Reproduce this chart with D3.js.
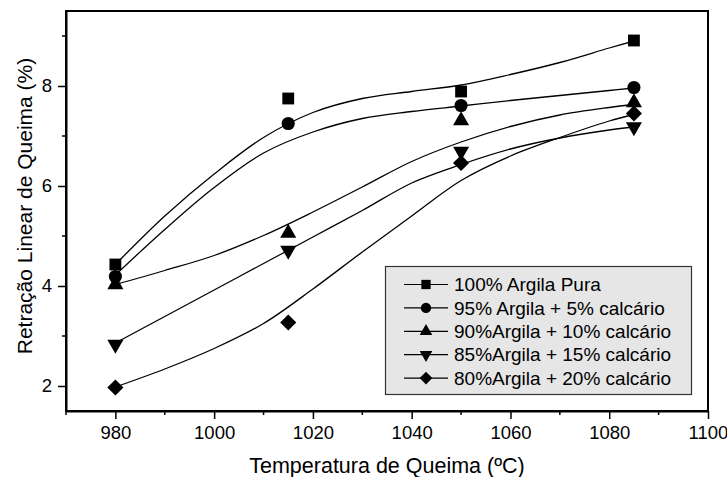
<!DOCTYPE html>
<html>
<head>
<meta charset="utf-8">
<script src="https://cdn.jsdelivr.net/npm/d3@7"></script>
<style>
  html, body { margin: 0; padding: 0; background: #fff; }
  svg { display: block; font-family: "Liberation Sans", Arial, sans-serif; }
</style>
</head>
<body>
<svg id="chart" width="727" height="477"></svg>
<script>
// Measured shrinkage at each firing temperature
const temperatures = [980, 1015, 1050, 1085];
const seriesNames = [
  "100% Argila Pura",
  "95% Argila + 5% calcário",
  "90%Argila + 10% calcário",
  "85%Argila + 15% calcário",
  "80%Argila + 20% calcário"
];
const argila100 = [4.43, 7.75, 7.89, 8.91];
const argila95 = [4.19, 7.25, 7.61, 7.97];
const argila90 = [4.03, 5.06, 7.31, 7.67];
const argila85 = [2.83, 4.71, 6.69, 7.18];
const argila80 = [1.97, 3.27, 6.46, 7.45];

// Fitted trend curves, sampled along the temperature range
const fitTemps = [980, 990, 1000, 1010, 1020, 1030, 1040, 1050, 1060, 1070, 1080, 1085];
const fit100 = [4.43, 5.40, 6.24, 6.97, 7.47, 7.75, 7.89, 8.02, 8.23, 8.47, 8.76, 8.90];
const fit95 = [4.22, 5.13, 5.97, 6.66, 7.08, 7.35, 7.49, 7.60, 7.71, 7.81, 7.91, 7.96];
const fit90 = [4.03, 4.31, 4.61, 5.01, 5.48, 5.98, 6.49, 6.88, 7.19, 7.42, 7.57, 7.63];
const fit85 = [2.86, 3.39, 3.92, 4.45, 4.98, 5.51, 6.06, 6.43, 6.74, 6.96, 7.12, 7.18];
const fit80 = [1.98, 2.34, 2.75, 3.25, 3.94, 4.68, 5.40, 6.11, 6.60, 6.97, 7.30, 7.43];

const xMajorTicks = [980, 1000, 1020, 1040, 1060, 1080, 1100];
const xMinorTicks = [970, 990, 1010, 1030, 1050, 1070, 1090];
const yMajorTicks = [2, 4, 6, 8];
const yMinorTicks = [3, 5, 7, 9];

const xTitle = "Temperatura de Queima (ºC)";
const yTitle = "Retração Linear de Queima (%)";

const seriesValues = [argila100, argila95, argila90, argila85, argila80];
const fitValues = [fit100, fit95, fit90, fit85, fit80];
const markerKinds = ["square", "circle", "triangleUp", "triangleDown", "diamond"];

const svg = d3.select("#chart");
const plotLeft = 66, plotRight = 708, plotTop = 11, plotBottom = 411;

const x = d3.scaleLinear().domain([970, 1100]).range([plotLeft, plotRight]);
const y = d3.scaleLinear().domain([1.5, 9.5]).range([plotBottom, plotTop]);

function markerPath(kind, scale) {
  const s = scale || 1;
  switch (kind) {
    case "square": return d3.symbol(d3.symbolSquare, 140 * s)();
    case "circle": return d3.symbol(d3.symbolCircle, 135 * s)();
    case "triangleUp": return d3.symbol(d3.symbolTriangle, 112 * s)();
    case "triangleDown": return d3.symbol(d3.symbolTriangle, 112 * s)();
    case "diamond": return d3.symbol(d3.symbolSquare, 130 * s)();
  }
}
function markerRotate(kind) {
  if (kind === "triangleDown") return 180;
  if (kind === "diamond") return 45;
  return 0;
}

// Fitted curves
const line = d3.line()
  .x((d, i) => x(fitTemps[i]))
  .y(d => y(d))
  .curve(d3.curveCatmullRom.alpha(0.5));

svg.append("g").selectAll("path")
  .data(fitValues)
  .join("path")
  .attr("d", d => line(d))
  .attr("fill", "none")
  .attr("stroke", "#000")
  .attr("stroke-width", 1.3);

// Data markers
seriesValues.forEach((vals, si) => {
  svg.append("g").selectAll("path")
    .data(vals)
    .join("path")
    .attr("d", markerPath(markerKinds[si]))
    .attr("transform", (d, i) => `translate(${x(temperatures[i])},${y(d)}) rotate(${markerRotate(markerKinds[si])})`)
    .attr("fill", "#000");
});

// Frame
svg.append("rect")
  .attr("x", plotLeft).attr("y", plotTop)
  .attr("width", plotRight - plotLeft).attr("height", plotBottom - plotTop)
  .attr("fill", "none").attr("stroke", "#000").attr("stroke-width", 2);

// Bottom axis
const xAxis = d3.axisBottom(x).tickValues(xMajorTicks).tickSize(8).tickSizeOuter(0)
  .tickFormat(d3.format("d"));
const gx = svg.append("g").attr("transform", `translate(0,${plotBottom})`).call(xAxis);
gx.select(".domain").attr("stroke-width", 2);
gx.selectAll(".tick line").attr("stroke-width", 1.5);
gx.selectAll(".tick text").attr("font-size", 18.5).attr("font-family", "Liberation Sans, Arial, sans-serif")
  .attr("fill", "#000").attr("dy", "0.71em").attr("y", 15);
gx.append("g").selectAll("line").data(xMinorTicks).join("line")
  .attr("x1", d => x(d)).attr("x2", d => x(d)).attr("y1", 0).attr("y2", 4)
  .attr("stroke", "#000").attr("stroke-width", 1.5);

// Left axis
const yAxis = d3.axisLeft(y).tickValues(yMajorTicks).tickSize(8).tickSizeOuter(0);
const gy = svg.append("g").attr("transform", `translate(${plotLeft},0)`).call(yAxis);
gy.select(".domain").attr("stroke-width", 2);
gy.selectAll(".tick line").attr("stroke-width", 1.5);
gy.selectAll(".tick text").attr("font-size", 18.5).attr("font-family", "Liberation Sans, Arial, sans-serif")
  .attr("fill", "#000").attr("x", -14);
gy.append("g").selectAll("line").data(yMinorTicks).join("line")
  .attr("x1", 0).attr("x2", -4).attr("y1", d => y(d)).attr("y2", d => y(d))
  .attr("stroke", "#000").attr("stroke-width", 1.5);

// Axis titles
svg.append("text")
  .attr("x", (plotLeft + plotRight) / 2).attr("y", 473)
  .attr("text-anchor", "middle").attr("font-size", 21.5).attr("fill", "#000")
  .text(xTitle);
svg.append("text")
  .attr("transform", "translate(32,206) rotate(-90)")
  .attr("text-anchor", "middle").attr("font-size", 21).attr("fill", "#000")
  .text(yTitle);

// Legend
const legend = svg.append("g");
legend.append("rect")
  .attr("x", 385.5).attr("y", 266.5).attr("width", 306).attr("height", 128)
  .attr("fill", "#e6e6e6").attr("stroke", "#333").attr("stroke-width", 1.2);
const rowY = i => 284.5 + i * 23.4;
const items = legend.selectAll("g.item").data(seriesNames).join("g")
  .attr("class", "item")
  .attr("transform", (d, i) => `translate(0,${rowY(i)})`);
items.append("line")
  .attr("x1", 404).attr("x2", 448).attr("y1", 0).attr("y2", 0)
  .attr("stroke", "#000").attr("stroke-width", 1.2);
items.append("path")
  .attr("d", (d, i) => markerPath(markerKinds[i], 0.62))
  .attr("transform", (d, i) => `translate(426,0) rotate(${markerRotate(markerKinds[i])})`)
  .attr("fill", "#000");
items.append("text")
  .attr("x", 454).attr("y", 0).attr("dy", "0.35em")
  .attr("font-size", 19).attr("fill", "#000")
  .text(d => d);
</script>
</body>
</html>
